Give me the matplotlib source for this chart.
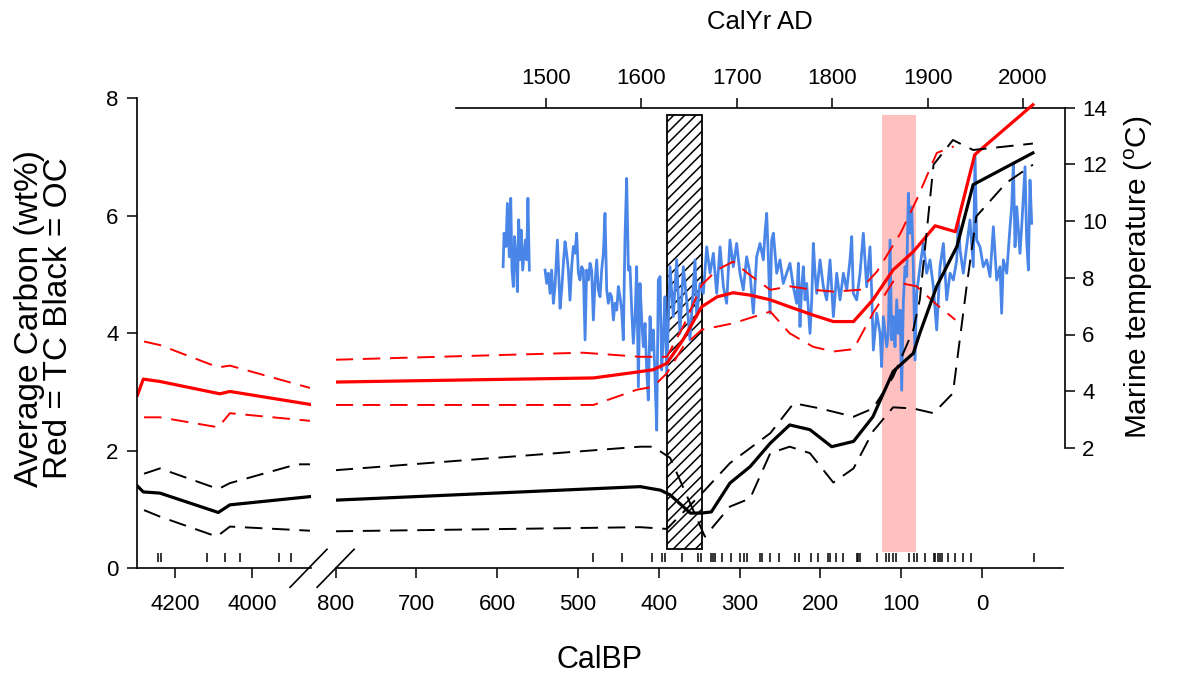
# Carbon (TC / OC) vs CalBP with marine temperature overlay
import numpy as np
import matplotlib.pyplot as plt
from matplotlib.patches import Rectangle

plt.rcParams['font.family'] = ['Liberation Sans', 'DejaVu Sans']
plt.rcParams['mathtext.default'] = 'regular'

# ---- older section (4300 - 3850 CalBP) ----
tc_old_bp = [4297, 4282, 4239, 4084, 4058, 3851]
tc_old = [2.95, 3.22, 3.18, 2.97, 3.01, 2.79]
tc_old_hi_bp = [4280, 4239, 4088, 4058, 3851]
tc_old_hi = [3.86, 3.80, 3.42, 3.45, 3.07]
tc_old_lo_bp = [4280, 4239, 4088, 4058, 3851]
tc_old_lo = [2.57, 2.57, 2.40, 2.64, 2.51]
oc_old_bp = [4297, 4282, 4239, 4088, 4058, 3851]
oc_old = [1.40, 1.30, 1.28, 0.95, 1.08, 1.22]
oc_old_hi_bp = [4280, 4239, 4088, 4058, 3885, 3851]
oc_old_hi = [1.61, 1.70, 1.35, 1.45, 1.77, 1.77]
oc_old_lo_bp = [4280, 4239, 4092, 4058, 3851]
oc_old_lo = [0.99, 0.88, 0.54, 0.71, 0.64]
dates_old = [4243, 4237, 4116, 4070, 4033, 3930, 3901]

# ---- recent section (800 - -100 CalBP) ----
tc_bp = [800, 621, 481, 427, 407, 390, 370, 347, 328, 308, 287, 262, 238, 209,
         184, 159, 135, 110, 85, 58, 33, 9, -63]
tc = [3.17, 3.21, 3.24, 3.34, 3.38, 3.49, 3.89, 4.45, 4.62, 4.69, 4.65, 4.57, 4.45, 4.31,
      4.20, 4.20, 4.57, 5.08, 5.39, 5.83, 5.73, 7.04, 7.89]
tc_hi_bp = [800, 494, 423, 390, 370, 347, 328, 308, 287, 262, 238, 209, 184, 151,
            130, 101, 81, 56, 35]
tc_hi = [3.55, 3.67, 3.60, 3.60, 4.11, 4.82, 5.08, 5.22, 4.99, 4.74, 4.80, 4.74, 4.71, 4.74,
         5.05, 5.70, 6.27, 7.07, 7.18]
tc_lo_bp = [800, 481, 427, 407, 390, 370, 347, 308, 262, 238, 209, 184, 159, 135,
            110, 81, 58, 33]
tc_lo = [2.78, 2.78, 3.04, 3.09, 3.32, 3.77, 4.06, 4.17, 4.37, 4.00, 3.77, 3.69, 3.73, 4.34,
         4.88, 4.80, 4.51, 4.23]
oc_bp = [800, 423, 398, 386, 361, 347, 335, 312, 287, 262, 238, 213, 186, 159,
         135, 110, 85, 77, 56, 31, 11, -63]
oc = [1.16, 1.39, 1.33, 1.25, 0.94, 0.94, 0.96, 1.45, 1.73, 2.13, 2.44, 2.36, 2.07, 2.16,
      2.58, 3.35, 3.66, 4.00, 4.80, 5.48, 6.53, 7.07]
oc_a_bp = [800, 423, 407, 386, 343, 312, 287, 262, 238, 213, 184, 159, 135, 110,
           85, 60, 36, 19, 7, -30, -63]
oc_a = [1.67, 2.07, 2.07, 1.88, 0.54, 1.05, 1.19, 1.96, 2.07, 1.96, 1.46, 1.70, 2.33, 2.74,
        2.72, 2.64, 2.98, 4.80, 5.99, 6.56, 6.87]
oc_b_bp = [800, 423, 390, 345, 312, 262, 233, 200, 159, 135, 110, 85, 77, 60,
           36, 11, -63]
oc_b = [0.63, 0.70, 0.67, 1.30, 1.79, 2.30, 2.81, 2.72, 2.58, 2.72, 3.26, 4.06, 4.57, 6.87,
        7.29, 7.12, 7.23]
dates_new = [481, 445, 409, 396, 392, 371, 351, 348, 336, 333, 330, 322, 311, 300, 295,
             291, 275, 272, 262, 251, 231, 227, 212, 203, 191, 188, 181, 172, 155, 153,
             151, 130, 119, 115, 110, 106, 90, 84, 81, 71, 60, 58, 55, 52, 49, 42, 33,
             24, 14, -64]

# shaded intervals (CalBP)
hatch_bp = (390, 346)
pink_bp = (124, 82)

# ---- marine temperature record (CalYr AD) ----
temp_year = [1455, 1456, 1458, 1459.5, 1461.5, 1463, 1464.3, 1465.7, 1467, 1468.5,
             1470, 1471.3, 1472.7, 1474, 1475.5, 1477, 1478.3, 1479.7, 1481, 1482.5,
             1490,
             1499.0, 1500.7, 1502.4, 1504.2, 1505.9, 1507.7, 1509.4, 1511.9, 1513.3, 1514.7,
             1516.4, 1518.2, 1519.9, 1521.6, 1523.4, 1525.1, 1526.9, 1528.6, 1530.4, 1532.1,
             1533.9, 1535.6, 1537.4, 1539.1, 1540.9, 1542.6, 1544.4, 1546.1, 1547.8, 1549.6,
             1551.3, 1553.1, 1554.8, 1556.6, 1558.3, 1560.1, 1561.8, 1563.6, 1565.3, 1567.1,
             1568.8, 1570.6, 1572.3, 1574.1, 1575.8, 1577.5, 1579.3, 1581.0, 1582.8, 1584.5,
             1586.3, 1588.0, 1589.8, 1591.5, 1593.3, 1595.0, 1596.8, 1598.5, 1600.3, 1602.0,
             1603.8, 1605.5, 1607.2, 1609.0, 1610.7, 1612.5, 1614.2, 1616.0, 1617.7, 1619.5,
             1621.2, 1623.0, 1624.7, 1626.5,
             1630.0, 1633.4, 1636.9, 1640.4, 1643.9, 1647.4, 1650.9, 1654.4, 1656.2, 1657.9,
             1661.4, 1664.9, 1668.4, 1671.9, 1675.4, 1678.9, 1682.4, 1685.9, 1689.3, 1692.8,
             1696.3, 1699.8, 1703.3, 1706.8, 1710.3, 1713.8, 1717.3, 1720.8, 1724.3, 1727.8,
             1729.5, 1731.3, 1733.0, 1734.8, 1736.5, 1738.3, 1741.8, 1745.2, 1748.7, 1752.2,
             1755.7, 1759.2, 1762.7, 1764.5, 1766.2, 1768.0, 1769.7, 1771.5, 1773.2, 1776.7,
             1778.5, 1780.2, 1782.0, 1783.7,
             1787.2, 1790.7, 1794.2, 1797.7, 1801.2, 1804.7, 1808.2, 1811.7, 1815.2, 1818.6,
             1820.4, 1822.1, 1825.6, 1829.1, 1832.6, 1836.1, 1839.6, 1841.4, 1843.1, 1846.6,
             1850.1, 1851.8, 1853.6, 1857.1, 1858.8, 1860.6, 1862.3, 1864.1, 1865.8, 1867.6,
             1869.3, 1871.1, 1872.8, 1874.6, 1876.3, 1878.1, 1879.8, 1881.5, 1883.3, 1885.0,
             1886.8, 1888.5, 1892.0, 1895.5, 1899.0, 1902.5, 1906.0, 1909.5, 1913.0, 1916.5,
             1920.0, 1923.5, 1927.0, 1930.5, 1932.2, 1934.0, 1937.4, 1940.9, 1944.4, 1947.9,
             1949.7, 1951.4, 1954.9, 1958.4, 1961.9, 1965.4, 1968.9, 1972.4, 1975.9, 1977.6,
             1979.4, 1982.9, 1986.4, 1988.1, 1989.9, 1991.6, 1993.4, 1996.8, 1998.6, 2002.1,
             2003.8, 2005.6, 2007.3, 2009.1]
temp_val = [8.39, 9.57, 9.10, 10.62, 8.74, 10.80, 8.27, 7.69, 9.45, 8.74,
            7.51, 10.04, 8.63, 9.68, 8.27, 8.86, 9.33, 8.63, 10.80, 8.27,
            np.nan,
            8.27, 7.80, 8.16, 7.45, 8.27, 7.10, 7.69, 9.33, 8.16, 6.92,
            7.57, 8.51, 9.27, 8.86, 8.27, 7.21, 8.39, 9.10, 8.86, 9.57,
            8.16, 7.92, 8.39, 8.27, 5.81, 8.27, 7.92, 8.51, 8.27, 6.51,
            7.80, 8.63, 7.57, 7.33, 8.27, 8.86, 10.27, 7.57, 7.10, 7.45,
            7.33, 6.51, 7.10, 6.86, 7.69, 7.33, 6.86, 5.81, 9.45, 11.50,
            8.27, 8.39, 6.86, 5.69, 6.63, 8.39, 4.16, 7.80, 6.51, 5.57,
            6.39, 4.75, 3.69, 6.63, 5.45, 6.16, 4.51, 2.63, 7.92, 8.04,
            4.75, 5.92, 7.33, 4.63,
            8.39, 6.63, 8.63, 6.04, 8.39, 7.22, 5.81, 7.68, 8.63, 6.63,
            7.80, 7.45, 9.09, 8.16, 8.86, 7.45, 9.09, 7.68, 7.10, 9.33,
            8.39, 9.21, 8.16, 7.57, 8.74, 8.16, 6.75, 8.74, 9.21, 8.63,
            9.57, 10.27, 8.74, 6.75, 9.33, 9.57, 8.16, 8.63, 7.80, 8.16,
            8.51, 7.68, 7.10, 8.51, 6.28, 7.68, 8.39, 7.22, 7.80, 6.04,
            7.22, 9.21, 8.16, 7.45,
            8.63, 7.68, 7.22, 8.63, 6.63, 8.16, 7.22, 8.16, 7.57, 8.63,
            9.45, 7.45, 7.22, 8.16, 9.57, 7.68, 9.09, 7.45, 5.45, 6.75,
            6.04, 4.87, 6.63, 5.57, 6.04, 9.33, 5.81, 6.63, 5.57, 7.22,
            6.04, 6.86, 4.04, 7.22, 8.39, 8.04, 10.98, 9.57, 10.50, 8.39,
            5.10, 7.45, 8.39, 9.21, 8.16, 8.63, 7.68, 6.16, 8.39, 9.21,
            7.22, 8.16, 7.92, 8.63, 10.04, 8.98, 8.16, 9.09, 10.04, 8.39,
            12.33, 9.33, 9.09, 8.39, 8.63, 8.04, 9.80, 7.92, 8.39, 6.75,
            8.63, 8.16, 9.80, 10.50, 12.03, 9.09, 10.50, 8.86, 9.80, 11.91,
            9.33, 8.27, 11.44, 9.92]

# ---- figure layout (pixel boxes -> figure fractions) ----
W, H = 1184, 676
fig = plt.figure(figsize=(W / 100, H / 100), dpi=100)


def box(x0, x1, y0, y1):
    return [x0 / W, 1 - y1 / H, (x1 - x0) / W, (y1 - y0) / H]


ax_t = fig.add_axes(box(455.7, 1065, 107.5, 448), zorder=1)
ax_old = fig.add_axes(box(137.3, 311.3, 98.3, 568.3), zorder=2)
ax_new = fig.add_axes(box(335.6, 1062.8, 98.3, 568.3), zorder=2)
for a in (ax_t, ax_old, ax_new):
    a.patch.set_visible(False)

red = '#ff0000'
blue = '#4a86e8'
dash = dict(lw=1.4, dashes=(9, 5))

# shaded boxes, below the temperature line
ax_t.add_patch(Rectangle((pink_bp[0], 0.28), pink_bp[1] - pink_bp[0], 7.44,
                         transform=ax_new.transData, facecolor='#ffc0c0',
                         edgecolor='none', clip_on=False, zorder=0))
plt.rcParams['hatch.linewidth'] = 1.1
ax_t.add_patch(Rectangle((hatch_bp[0], 0.32), hatch_bp[1] - hatch_bp[0], 7.40,
                         transform=ax_new.transData, fill=False, hatch='///',
                         edgecolor='black', lw=1.3, clip_on=False, zorder=0))

ax_t.plot(temp_year, temp_val, color=blue, lw=2.0, zorder=2)
ax_t.set_xlim(1405.3, 2044)
ax_t.set_ylim(2, 14)
ax_t.spines['left'].set_visible(False)
ax_t.spines['bottom'].set_visible(False)
ax_t.xaxis.tick_top()
ax_t.xaxis.set_label_position('top')
ax_t.yaxis.tick_right()
ax_t.yaxis.set_label_position('right')
ax_t.set_xticks(range(1500, 2001, 100))
ax_t.set_yticks(range(2, 15, 2))

# older section
ax_old.plot(tc_old_bp, tc_old, color=red, lw=2.3)
ax_old.plot(tc_old_hi_bp, tc_old_hi, color=red, **dash)
ax_old.plot(tc_old_lo_bp, tc_old_lo, color=red, **dash)
ax_old.plot(oc_old_bp, oc_old, color='black', lw=2.3)
ax_old.plot(oc_old_hi_bp, oc_old_hi, color='black', **dash)
ax_old.plot(oc_old_lo_bp, oc_old_lo, color='black', **dash)
ax_old.vlines(dates_old, 0.11, 0.26, color='black', lw=1.1)
ax_old.set_xlim(4297.5, 3847.5)
ax_old.set_xticks([4200, 4000])
ax_old.set_yticks(range(0, 9, 2))
ax_old.spines['top'].set_visible(False)
ax_old.spines['right'].set_visible(False)

# recent section
ax_new.plot(tc_bp, tc, color=red, lw=2.3)
ax_new.plot(tc_hi_bp, tc_hi, color=red, **dash)
ax_new.plot(tc_lo_bp, tc_lo, color=red, **dash)
ax_new.plot(oc_bp, oc, color='black', lw=2.3)
ax_new.plot(oc_a_bp, oc_a, color='black', **dash)
ax_new.plot(oc_b_bp, oc_b, color='black', **dash)
ax_new.vlines(dates_new, 0.11, 0.26, color='black', lw=1.1)
ax_new.set_xlim(800, -100)
ax_new.set_xticks(range(800, -1, -100))
ax_new.set_yticks([])
for s in ('top', 'right', 'left'):
    ax_new.spines[s].set_visible(False)

for a in (ax_old, ax_new):
    a.set_ylim(0, 8)

for a in (ax_t, ax_old, ax_new):
    a.tick_params(direction='out', length=7.5, width=1.1, labelsize=16)
    for s in a.spines.values():
        s.set_linewidth(1.2)
ax_old.tick_params(axis='y', pad=6)
ax_old.tick_params(axis='x', pad=11)
ax_new.tick_params(axis='x', pad=11)
ax_t.tick_params(axis='x', pad=6)
ax_t.tick_params(axis='y', pad=5)

ax_t.set_xlabel('CalYr AD', fontsize=18.5, labelpad=28)
ax_t.set_ylabel('Marine temperature ($^o$C)', fontsize=21.5, labelpad=11)

# axis break marks
kw = dict(color='black', lw=1.2, clip_on=False)
ax_old.plot([0.878, 1.09], [-0.0404, 0.0404], transform=ax_old.transAxes, **kw)
ax_new.plot([-0.0254, 0.0254], [-0.0404, 0.0404], transform=ax_new.transAxes, **kw)

fig.text(44 / W, 1 - 318 / H, 'Average Carbon (wt%)\nRed = TC Black = OC',
         rotation=90, ha='center', va='center', fontsize=24, linespacing=0.95)
fig.text(600 / W, 1 - 660 / H, 'CalBP', ha='center', va='center', fontsize=22)

fig.savefig('out.png', dpi=100)
